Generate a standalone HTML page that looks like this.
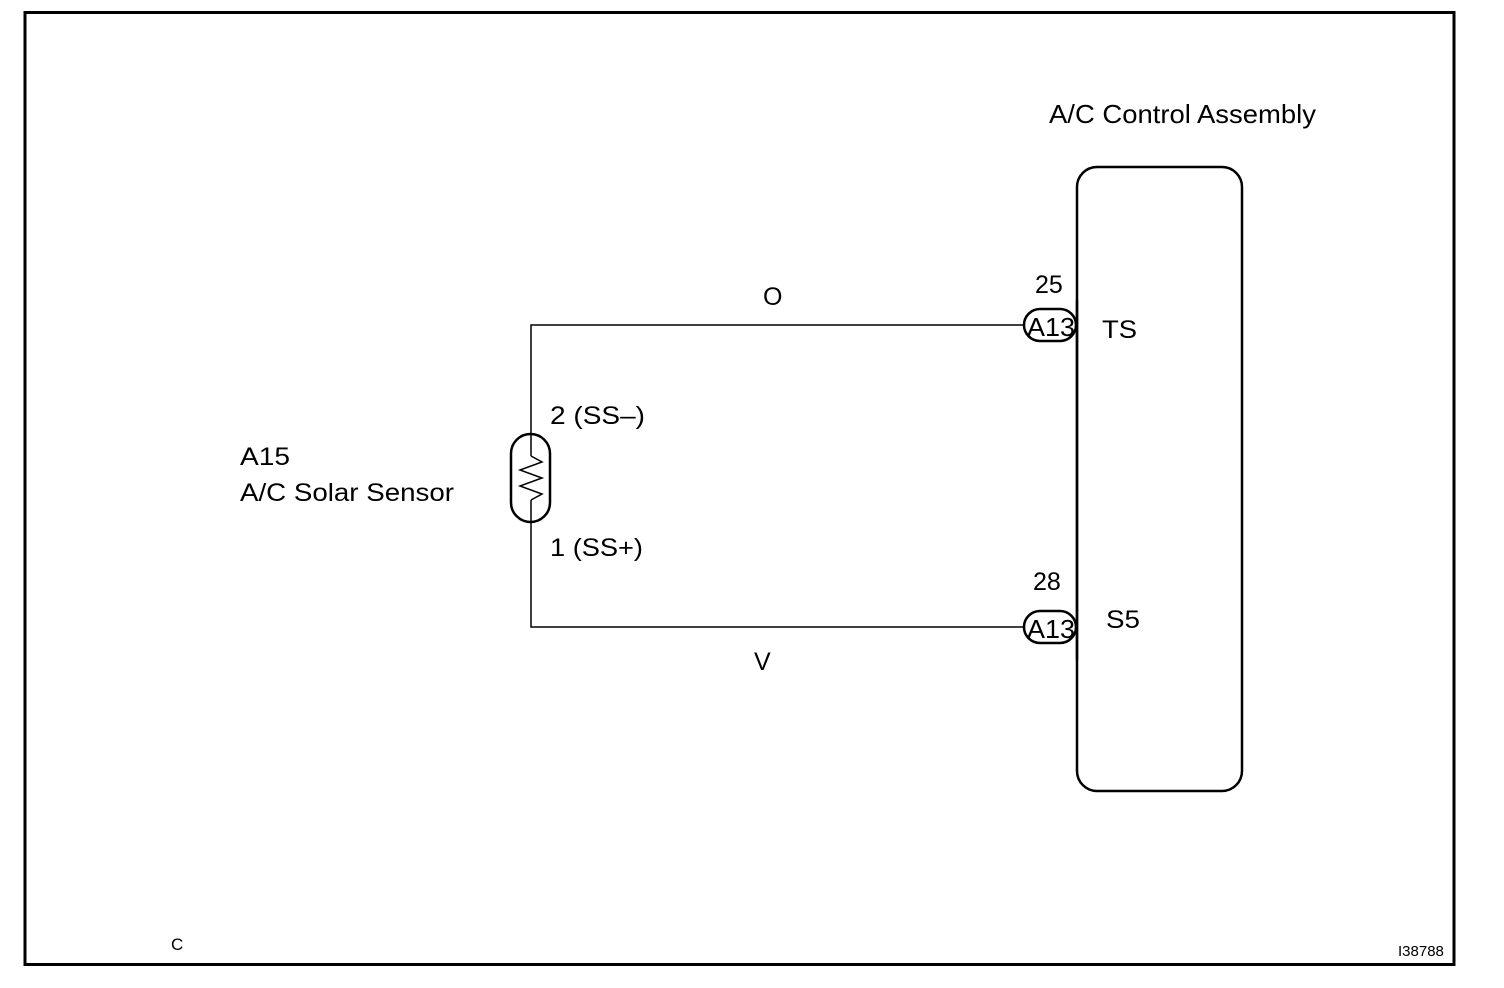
<!DOCTYPE html>
<html><head><style>
body{margin:0;background:#fff;}
svg{display:block;}
text{font-family:"Liberation Sans",Arial,sans-serif;fill:#000;}
</style></head><body>
<svg width="1504" height="988" viewBox="0 0 1504 988">
<rect x="25" y="12.5" width="1429" height="952" fill="none" stroke="#000" stroke-width="3"/>
<text x="1049" y="123" font-size="26" textLength="267" lengthAdjust="spacingAndGlyphs">A/C Control Assembly</text>
<rect x="1077" y="167" width="165" height="624" rx="20" fill="none" stroke="#000" stroke-width="2.5"/>
<polyline points="1025,325 531,325 531,627 1025,627" fill="none" stroke="#000" stroke-width="1.5"/>
<rect x="511" y="434" width="39" height="88" rx="19.5" fill="#fff" stroke="#000" stroke-width="2.5"/>
<line x1="531" y1="434" x2="531" y2="456" stroke="#000" stroke-width="1.5"/>
<line x1="531" y1="500" x2="531" y2="522" stroke="#000" stroke-width="1.5"/>
<polyline points="531,456 542,462 520,470 542,478 520,486 542,494 531,500" fill="none" stroke="#000" stroke-width="1.5"/>
<text x="763" y="305" font-size="25">O</text>
<text x="754" y="670" font-size="25">V</text>
<text x="550" y="424" font-size="25" textLength="95" lengthAdjust="spacingAndGlyphs">2 (SS–)</text>
<text x="550" y="556" font-size="25" textLength="93" lengthAdjust="spacingAndGlyphs">1 (SS+)</text>
<text x="240" y="465" font-size="25" textLength="50" lengthAdjust="spacingAndGlyphs">A15</text>
<text x="240" y="501" font-size="25" textLength="214" lengthAdjust="spacingAndGlyphs">A/C Solar Sensor</text>
<text x="1035" y="293" font-size="25">25</text>
<text x="1033" y="590" font-size="25">28</text>
<rect x="1024" y="309" width="52" height="32" rx="16" fill="#fff" stroke="#000" stroke-width="2.5"/>
<rect x="1024" y="611" width="52" height="32" rx="16" fill="#fff" stroke="#000" stroke-width="2.5"/>
<line x1="1077" y1="300" x2="1077" y2="660" stroke="#000" stroke-width="2.5"/>
<text x="1027" y="336" font-size="26" textLength="48" lengthAdjust="spacingAndGlyphs">A13</text>
<text x="1027" y="638" font-size="26" textLength="48" lengthAdjust="spacingAndGlyphs">A13</text>
<text x="1102" y="338" font-size="25" textLength="35" lengthAdjust="spacingAndGlyphs">TS</text>
<text x="1106" y="628" font-size="25" textLength="34" lengthAdjust="spacingAndGlyphs">S5</text>
<text x="171" y="950" font-size="17">C</text>
<text x="1398" y="956" font-size="15">I38788</text>
</svg>
</body></html>
